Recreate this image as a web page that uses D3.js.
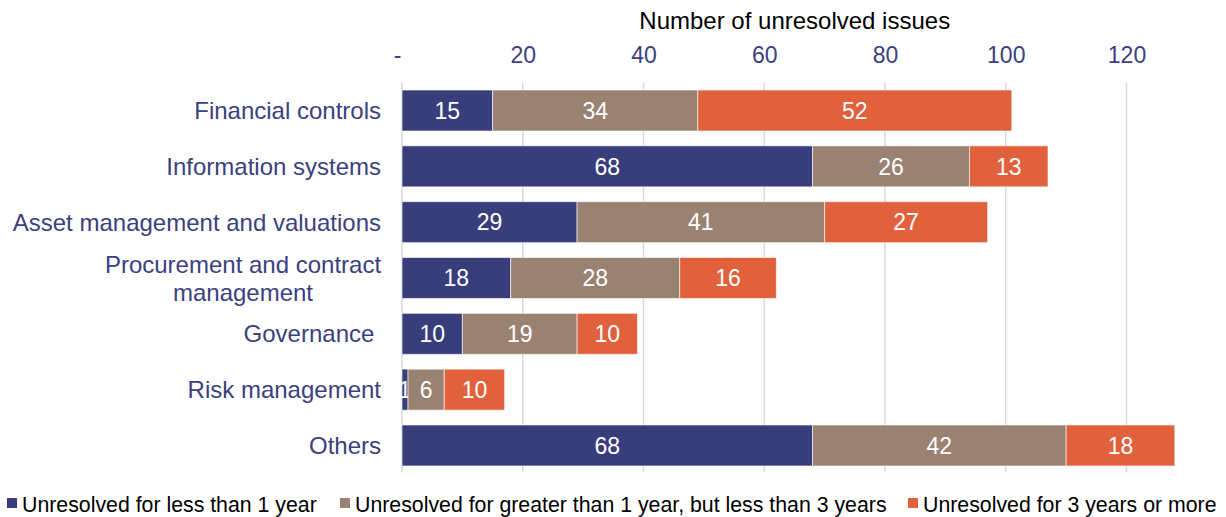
<!DOCTYPE html>
<html><head><meta charset="utf-8">
<script src="https://cdn.jsdelivr.net/npm/d3@7"></script>
<style>
html,body{margin:0;padding:0;background:#fff;}
svg{display:block;font-family:"Liberation Sans",Arial,sans-serif;}
</style></head>
<body><svg id="c" width="1226" height="517"></svg>
<script>
const categories = ["Financial controls","Information systems","Asset management and valuations","Procurement and contract management","Governance ","Risk management","Others"];
const categoryLines = [["Financial controls"],["Information systems"],["Asset management and valuations"],["Procurement and contract","management"],["Governance "],["Risk management"],["Others"]];
const seriesNames = ["Unresolved for less than 1 year","Unresolved for greater than 1 year, but less than 3 years","Unresolved for 3 years or more"];
const lessThan1 = [15,68,29,18,10,1,68];
const oneToThree = [34,26,41,28,19,6,42];
const threePlus = [52,13,27,16,10,10,18];
const tickValues = [0,20,40,60,80,100,120];
const axisTitle = "Number of unresolved issues";

const colors = ["#383E7B","#9A8272","#E0613C"];
const navy = "#3B4080";
const svg = d3.select("#c");

const x = d3.scaleLinear().domain([0,120]).range([402,1126.5]);
const y = d3.scaleBand().domain(categories).range([82.6,473.4]).paddingInner(0.266).paddingOuter(0.133);

// gridlines
svg.append("g").selectAll("line").data(tickValues).join("line")
  .attr("x1",d=>x(d)).attr("x2",d=>x(d)).attr("y1",83).attr("y2",472)
  .attr("stroke","#d9d9d9").attr("stroke-width",1.5);

// top axis
const axis = d3.axisTop(x).tickValues(tickValues).tickSize(0).tickPadding(0)
  .tickFormat(d=>d===0?"-":d3.format("d")(d));
const ag = svg.append("g").attr("transform","translate(0,63)").call(axis);
ag.select(".domain").remove();
ag.selectAll("text").attr("fill",navy).style("font-size","23px")
  .attr("font-family","'Liberation Sans',Arial,sans-serif");
ag.selectAll(".tick").filter(d=>d===0).select("text").attr("dx",-5);

svg.append("text").attr("x",x(60)+30.5).attr("y",29).attr("text-anchor","middle")
  .style("font-size","24px").attr("fill","#000").text(axisTitle);

// stacked data
const rows = categories.map((c,i)=>({cat:c,v:[lessThan1[i],oneToThree[i],threePlus[i]]}));
const stack = d3.stack().keys([0,1,2]).value((d,k)=>d.v[k]);
const layers = stack(rows);

layers.forEach((layer,k)=>{
  const g = svg.append("g");
  g.selectAll("rect").data(layer).join("rect")
    .attr("x",d=>x(d[0])).attr("width",d=>x(d[1])-x(d[0]))
    .attr("y",d=>y(d.data.cat)).attr("height",y.bandwidth())
    .attr("fill",colors[k]).attr("stroke","#fff").attr("stroke-opacity",0.6).attr("stroke-width",1);
  g.selectAll("text").data(layer).join("text")
    .attr("x",d=>(x(d[0])+x(d[1]))/2).attr("y",d=>y(d.data.cat)+y.bandwidth()/2)
    .attr("dy","0.36em").attr("text-anchor","middle").attr("fill","#fff")
    .style("font-size","23px").text(d=>d[1]-d[0]);
});

// category labels
categories.forEach((c,i)=>{
  const lines = categoryLines[i];
  const cy = y(c)+y.bandwidth()/2;
  const lh = 28;
  const t = svg.append("text").attr("fill",navy).style("font-size","24px").style("white-space","pre");
  if(lines.length===1){
    t.attr("x",381).attr("y",cy).attr("dy","0.36em").attr("text-anchor","end").text(lines[0]);
  } else {
    t.attr("text-anchor","middle");
    lines.forEach((l,j)=>{
      t.append("tspan").attr("x",243).attr("y",cy+(j-(lines.length-1)/2)*lh).attr("dy","0.36em").text(l);
    });
  }
});

// legend
const legX = [7,340,908];
const lg = svg.append("g");
seriesNames.forEach((s,k)=>{
  lg.append("rect").attr("x",legX[k]).attr("y",498).attr("width",10).attr("height",10).attr("fill",colors[k]);
  lg.append("text").attr("x",legX[k]+15).attr("y",504.5).attr("dy","0.36em")
    .style("font-size","21.3px").attr("fill","#000").text(s);
});
</script></body></html>
